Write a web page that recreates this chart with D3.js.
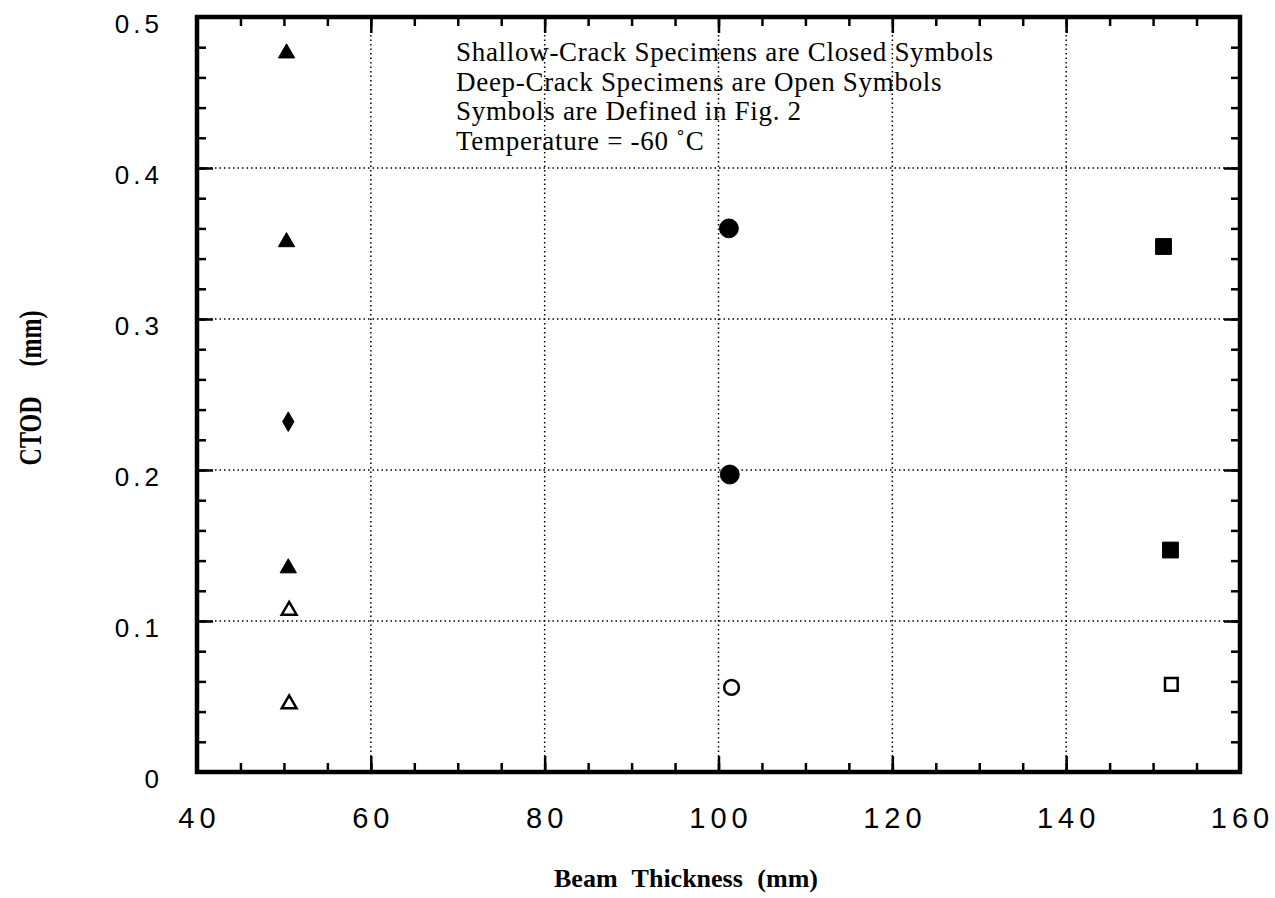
<!DOCTYPE html>
<html>
<head>
<meta charset="utf-8">
<script src="https://cdn.jsdelivr.net/npm/d3@7"></script>
<style>
  body { margin: 0; background: #fff; }
  .x-label { font-family: "Liberation Sans", Arial, sans-serif; font-size: 29px; letter-spacing: 5px; fill: #000; }
  .y-label { font-family: "Liberation Sans", Arial, sans-serif; font-size: 26px; letter-spacing: 4px; fill: #000; }
  .title { font-family: "Liberation Serif", "Times New Roman", serif; font-weight: bold; fill: #000; }
  .note { font-family: "Liberation Serif", "Times New Roman", serif; font-size: 27px; letter-spacing: 0.7px; fill: #000; }
</style>
</head>
<body>
<svg width="1275" height="898"></svg>
<script>
// data
let closedTriangleX = [50.3, 50.3, 50.5];
let closedTriangleY = [0.476, 0.351, 0.135];
let closedDiamondX = [50.5];
let closedDiamondY = [0.232];
let openTriangleX = [50.6, 50.6];
let openTriangleY = [0.107, 0.045];
let closedCircleX = [101.2, 101.3];
let closedCircleY = [0.360, 0.197];
let openCircleX = [101.5];
let openCircleY = [0.056];
let closedSquareX = [151.2, 152.0];
let closedSquareY = [0.348, 0.147];
let openSquareX = [152.1];
let openSquareY = [0.058];

let xTicks = [40, 60, 80, 100, 120, 140, 160];
let yTicks = [0, 0.1, 0.2, 0.3, 0.4, 0.5];
let noteLines = [
  "Shallow-Crack Specimens are Closed Symbols",
  "Deep-Crack Specimens are Open Symbols",
  "Symbols are Defined in Fig. 2",
  "Temperature = -60 \u02daC"
];

let svg = d3.select("svg");
let plotLeft = 197, plotRight = 1240, plotTop = 17, plotBottom = 772;

let x = d3.scaleLinear().domain([40, 160]).range([plotLeft, plotRight]);
let y = d3.scaleLinear().domain([0, 0.5]).range([plotBottom, plotTop]);

let xMinor = d3.range(40, 161, 5);
let yMinor = d3.range(0, 0.501, 0.02);

// dotted grid
let grid = svg.append("g");
grid.selectAll(".gx")
  .data(xTicks.slice(1, -1))
  .join("line")
  .attr("x1", (d) => x(d)).attr("x2", (d) => x(d))
  .attr("y1", plotTop).attr("y2", plotBottom)
  .attr("stroke", "#000").attr("stroke-width", 1.5)
  .attr("stroke-dasharray", "1.5,3");
grid.selectAll(".gy")
  .data(yTicks.slice(1, -1))
  .join("line")
  .attr("x1", plotLeft).attr("x2", plotRight)
  .attr("y1", (d) => y(d)).attr("y2", (d) => y(d))
  .attr("stroke", "#000").attr("stroke-width", 1.5)
  .attr("stroke-dasharray", "1.5,3");

// inward ticks on all four sides
let makeAxis = (axisFn, scale, values, size, transform) => {
  let g = svg.append("g")
    .attr("transform", transform)
    .call(axisFn(scale).tickValues(values).tickSize(-size).tickFormat(""));
  g.select(".domain").remove();
  g.selectAll(".tick line").attr("stroke", "#000").attr("stroke-width", 2.5);
};
makeAxis(d3.axisBottom, x, xMinor, 9, `translate(0,${plotBottom})`);
makeAxis(d3.axisBottom, x, xTicks, 16, `translate(0,${plotBottom})`);
makeAxis(d3.axisTop, x, xMinor, 9, `translate(0,${plotTop})`);
makeAxis(d3.axisTop, x, xTicks, 16, `translate(0,${plotTop})`);
makeAxis(d3.axisLeft, y, yMinor, 9, `translate(${plotLeft},0)`);
makeAxis(d3.axisLeft, y, yTicks, 16, `translate(${plotLeft},0)`);
makeAxis(d3.axisRight, y, yMinor, 9, `translate(${plotRight},0)`);
makeAxis(d3.axisRight, y, yTicks, 16, `translate(${plotRight},0)`);

// frame
svg.append("rect")
  .attr("x", plotLeft).attr("y", plotTop)
  .attr("width", plotRight - plotLeft).attr("height", plotBottom - plotTop)
  .attr("fill", "none").attr("stroke", "#000").attr("stroke-width", 4.5);

// tick labels
svg.append("g").selectAll("text")
  .data(xTicks)
  .join("text")
  .attr("class", "x-label")
  .attr("x", (d) => x(d) + 2.5)
  .attr("y", 828)
  .attr("text-anchor", "middle")
  .text((d) => d);
svg.append("g").selectAll("text")
  .data(yTicks)
  .join("text")
  .attr("class", "y-label")
  .attr("x", 163)
  .attr("y", (d) => y(d) + 16)
  .attr("text-anchor", "end")
  .text((d) => (d === 0 ? "0" : d.toFixed(1)));

// axis titles
svg.append("text")
  .attr("class", "title")
  .attr("x", 686).attr("y", 887)
  .attr("text-anchor", "middle")
  .attr("font-size", 26)
  .attr("word-spacing", "8px")
  .text("Beam Thickness (mm)");
svg.append("text")
  .attr("class", "title")
  .attr("transform", "translate(41,388) rotate(-90) scale(1,1.35)")
  .attr("text-anchor", "middle")
  .attr("font-size", 24)
  .attr("word-spacing", "24px")
  .text("CTOD (mm)");

// annotation
svg.append("g").selectAll("text")
  .data(noteLines)
  .join("text")
  .attr("class", "note")
  .attr("x", 456)
  .attr("y", (d, i) => 61 + i * 29.5)
  .text((d) => d);

// markers
let drawPoints = (xs, ys, type, size, filled) => {
  svg.append("g").selectAll("path")
    .data(xs.map((d, i) => [d, ys[i]]))
    .join("path")
    .attr("transform", (d) => `translate(${x(d[0])},${y(d[1])})`)
    .attr("d", d3.symbol().type(type).size(size))
    .attr("fill", filled ? "#000" : "#fff")
    .attr("stroke", "#000")
    .attr("stroke-width", filled ? 1 : 2.5);
};
drawPoints(closedTriangleX, closedTriangleY, d3.symbolTriangle, 115, true);
drawPoints(closedDiamondX, closedDiamondY, d3.symbolDiamond, 110, true);
drawPoints(openTriangleX, openTriangleY, d3.symbolTriangle, 95, false);
drawPoints(closedCircleX, closedCircleY, d3.symbolCircle, 280, true);
drawPoints(openCircleX, openCircleY, d3.symbolCircle, 170, false);
drawPoints(closedSquareX, closedSquareY, d3.symbolSquare, 250, true);
drawPoints(openSquareX, openSquareY, d3.symbolSquare, 160, false);
</script>
</body>
</html>
